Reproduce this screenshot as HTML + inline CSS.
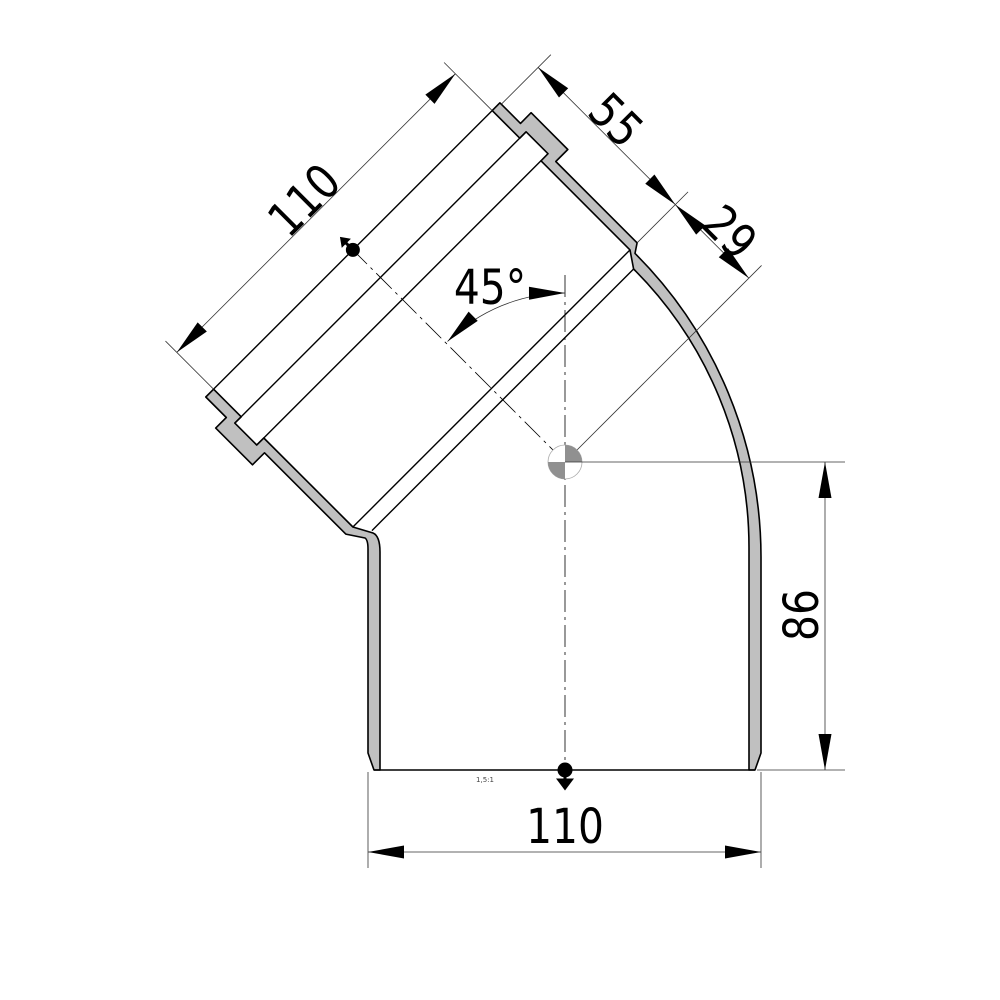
<!DOCTYPE html>
<html><head><meta charset="utf-8"><style>html,body{margin:0;padding:0;background:#fff}svg{display:block}</style></head>
<body>
<svg width="1000" height="1000" viewBox="0 0 1000 1000" xmlns="http://www.w3.org/2000/svg">
<defs>
<marker id="ar" markerUnits="userSpaceOnUse" markerWidth="40" markerHeight="16" viewBox="-37 -8 38 16" refX="0" refY="0" orient="auto-start-reverse">
<path d="M0,0 L-36,-6.5 L-36,6.5 Z" fill="#000"/>
</marker>
</defs>
<rect width="1000" height="1000" fill="#fff"/>

<path d="M492.2,110.6 L499.9,102.8 L520.5,123.4 L531.1,112.7 L567.8,149.5 L555.8,161.5 L637.1,242.8 L635,253.4 A430,430 0 0 1 761,557 L761,753 L755,770 L749,770 L749,547.6 A394,394 0 0 0 633.6,269 L630,249.9 L541,160.8 L548,153.7 L526.1,131.8 L519.8,138.2 Z" fill="#c0c0c0" stroke="#000" stroke-width="1.6" stroke-linejoin="round"/>
<path d="M213.6,389.2 L205.8,397 L226.3,417.5 L215.7,428.1 L252.5,464.8 L264.5,452.8 L345.8,534.1 L365,538 Q368,540 368,549 L368,753 L374,770 L380,770 L380,552 Q380,536 373,533 L352.9,527 L263.8,438 L256.7,445 L234.8,423.1 L241.2,416.8 Z" fill="#c0c0c0" stroke="#000" stroke-width="1.6" stroke-linejoin="round"/>
<line x1="374" y1="770" x2="755" y2="770" stroke="#000" stroke-width="1.6"/>

<g transform="translate(565 462) rotate(-45)" stroke="#000" stroke-width="1.4" fill="none">
<line x1="-197" y1="-300" x2="197" y2="-300"/>
<line x1="-206" y1="-261" x2="206" y2="-261"/>
<line x1="-196" y1="-230" x2="196" y2="-230"/>
<line x1="-196" y1="-104" x2="196" y2="-104"/>
<line x1="-185" y1="-88" x2="185" y2="-88"/>
<g stroke-width="0.8" stroke="#333">
<line x1="-197" y1="-300" x2="-197" y2="-368"/>
<line x1="197" y1="-300" x2="197" y2="-368"/>
<line x1="208" y1="-298" x2="278" y2="-298"/>
<line x1="206" y1="-104" x2="278" y2="-104"/>
<line x1="0" y1="0" x2="278" y2="0"/>
<line x1="-197" y1="-352" x2="197" y2="-352" marker-start="url(#ar)" marker-end="url(#ar)"/>
<line x1="260" y1="-298" x2="260" y2="-104" marker-start="url(#ar)" marker-end="url(#ar)"/>
<line x1="260" y1="-104" x2="260" y2="0" marker-start="url(#ar)" marker-end="url(#ar)"/>
</g>
<line x1="0" y1="0" x2="0" y2="-300" stroke="#000" stroke-width="0.8" stroke-dasharray="22,5,3,5"/>
<circle cx="0" cy="-300" r="7" fill="#000" stroke="none"/>
<path d="M0,-300 L0,-312" stroke="#000" stroke-width="3"/>
<path d="M-5,-310 L0,-317 L5,-310 Z" fill="#000" stroke="#000" stroke-width="1.5"/>
</g>

<line x1="565" y1="275" x2="565" y2="770" stroke="#000" stroke-width="0.8" stroke-dasharray="22,5,3,5"/>
<circle cx="565" cy="770" r="7.5" fill="#000"/>
<path d="M565,770 L565,785 M559,780 L565,788 L571,780 Z" stroke="#000" stroke-width="3" fill="#000"/>

<circle cx="565" cy="462" r="17" fill="#fff" stroke="#aaa" stroke-width="0.8"/>
<path d="M565,462 L565,445 A17,17 0 0 1 582,462 Z" fill="#909090"/>
<path d="M565,462 L565,479 A17,17 0 0 1 548,462 Z" fill="#909090"/>

<g stroke="#333" stroke-width="0.8" fill="none">
<line x1="565" y1="462" x2="845" y2="462"/>
<line x1="757" y1="770" x2="845" y2="770"/>
<line x1="825" y1="462" x2="825" y2="770" marker-start="url(#ar)" marker-end="url(#ar)"/>
<line x1="368" y1="772" x2="368" y2="868"/>
<line x1="761" y1="772" x2="761" y2="868"/>
<line x1="368" y1="852" x2="761" y2="852" marker-start="url(#ar)" marker-end="url(#ar)"/>
<path d="M447.5,341.5 A169,169 0 0 1 565,293" marker-start="url(#ar)" marker-end="url(#ar)"/>
</g>

<g font-family="DejaVu Sans, Liberation Sans, sans-serif" fill="#000" font-size="48" text-anchor="middle">
<text transform="translate(565 843) scale(0.85 1)">110</text>
<text transform="translate(818 615) rotate(-90) scale(0.85 1)">86</text>
<text transform="translate(490 304) scale(0.85 1)">45°</text>
<text transform="translate(316 212) rotate(-45) scale(0.85 1)">110</text>
<text transform="translate(604 132) rotate(45) scale(0.85 1)">55</text>
<text transform="translate(718 244) rotate(45) scale(0.85 1)">29</text>
<text x="485" y="782" font-size="7" fill="#444">1,5:1</text>
</g>
</svg>
</body></html>
